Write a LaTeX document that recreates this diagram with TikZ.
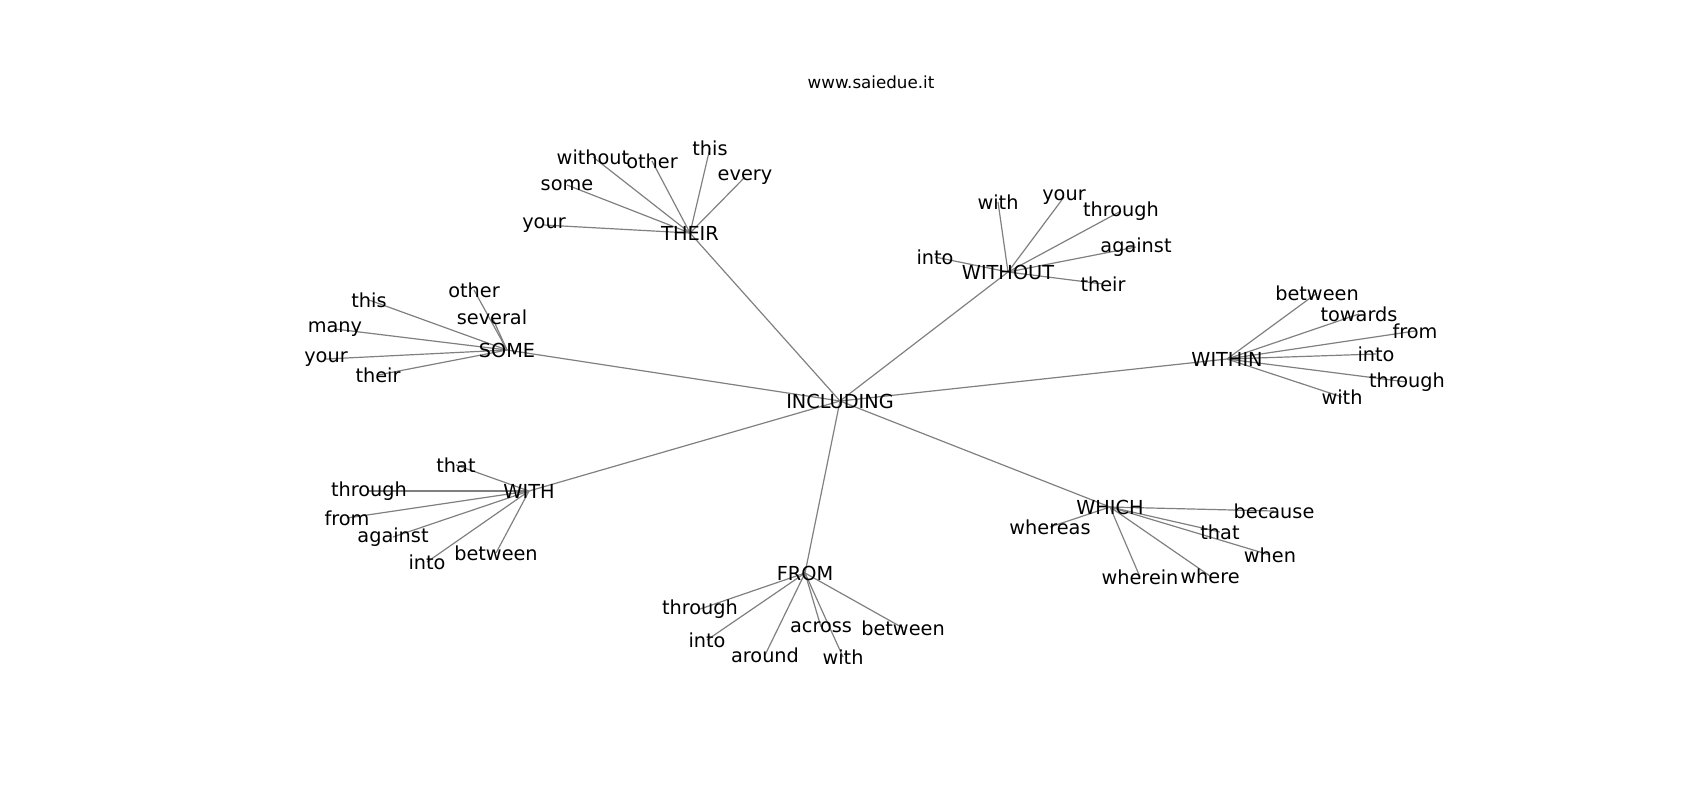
\documentclass[tikz,border=0pt]{standalone}
\usepackage{fontspec}
\setmainfont{DejaVu Sans}
\usepackage{xcolor}
\usepackage{tikz}
\usetikzlibrary{backgrounds}

\begin{document}
\begin{tikzpicture}[x=0.5pt,y=0.5pt,yscale=-1,xscale=1,
  word/.style={inner sep=0.75pt,font=\fontsize{9.65}{11.5}\selectfont},
  link/.style={draw={rgb,255:red,128;green,128;blue,128},line width=0.6pt}]
\useasboundingbox (0,0) rectangle (1700,800);

% Title
\node [inner sep=0.75pt,font=\fontsize{8.35}{10}\selectfont] (site) at (871,82) {www.saiedue.it};

% Centre
\node [word] (including) at (840,401) {INCLUDING};

% Hub Nodes
\node [word] (their) at (690,233) {THEIR};
\node [word] (without) at (1008,272) {WITHOUT};
\node [word] (some) at (507,350) {SOME};
\node [word] (within) at (1227,359) {WITHIN};
\node [word] (with) at (529,491) {WITH};
\node [word] (from) at (805,573) {FROM};
\node [word] (which) at (1110,507) {WHICH};

% Leaves of THEIR
\node [word] (their-without) at (593,157) {without};
\node [word] (their-other) at (652,161) {other};
\node [word] (their-this) at (710,148) {this};
\node [word] (their-every) at (745,177) {every};
\node [word] (their-some) at (567,185) {some};
\node [word] (their-your) at (544,225) {your};

% Leaves of WITHOUT
\node [word] (without-with) at (998,202) {with};
\node [word] (without-your) at (1064,197) {your};
\node [word] (without-through) at (1121,211) {through};
\node [word] (without-against) at (1136,247) {against};
\node [word] (without-their) at (1103,284) {their};
\node [word] (without-into) at (935,257) {into};

% Leaves of SOME
\node [word] (some-other) at (474,290) {other};
\node [word] (some-several) at (492,317) {several};
\node [word] (some-this) at (369,300) {this};
\node [word] (some-many) at (335,329) {many};
\node [word] (some-your) at (326,359) {your};
\node [word] (some-their) at (378,375) {their};

% Leaves of WITHIN
\node [word] (within-between) at (1317,293) {between};
\node [word] (within-towards) at (1359,314) {towards};
\node [word] (within-from) at (1415,331) {from};
\node [word] (within-into) at (1376,354) {into};
\node [word] (within-through) at (1407,382) {through};
\node [word] (within-with) at (1342,397) {with};

% Leaves of WITH
\node [word] (with-that) at (456,465) {that};
\node [word] (with-through) at (369,491) {through};
\node [word] (with-from) at (347,518) {from};
\node [word] (with-against) at (393,537) {against};
\node [word] (with-into) at (427,562) {into};
\node [word] (with-between) at (496,553) {between};

% Leaves of FROM
\node [word] (from-through) at (700,609) {through};
\node [word] (from-into) at (707,640) {into};
\node [word] (from-around) at (765,655) {around};
\node [word] (from-across) at (821,627) {across};
\node [word] (from-with) at (843,657) {with};
\node [word] (from-between) at (903,628) {between};

% Leaves of WHICH
\node [word] (which-whereas) at (1050,527) {whereas};
\node [word] (which-because) at (1274,511) {because};
\node [word] (which-that) at (1220,532) {that};
\node [word] (which-when) at (1270,555) {when};
\node [word] (which-wherein) at (1140,577) {wherein};
\node [word] (which-where) at (1210,576) {where};

% Edges
\begin{pgfonlayer}{background}
\foreach \hub in {their,without,some,within,with,from,which}
  \draw [link] (including.center) -- (\hub.center);
\foreach \leaf in {without,other,this,every,some,your}
  \draw [link] (their.center) -- (their-\leaf.center);
\foreach \leaf in {with,your,through,against,their,into}
  \draw [link] (without.center) -- (without-\leaf.center);
\foreach \leaf in {other,several,this,many,your,their}
  \draw [link] (some.center) -- (some-\leaf.center);
\foreach \leaf in {between,towards,from,into,through,with}
  \draw [link] (within.center) -- (within-\leaf.center);
\foreach \leaf in {that,through,from,against,into,between}
  \draw [link] (with.center) -- (with-\leaf.center);
\foreach \leaf in {through,into,around,across,with,between}
  \draw [link] (from.center) -- (from-\leaf.center);
\foreach \leaf in {whereas,because,that,when,wherein,where}
  \draw [link] (which.center) -- (which-\leaf.center);
\end{pgfonlayer}

\end{tikzpicture}
\end{document}
